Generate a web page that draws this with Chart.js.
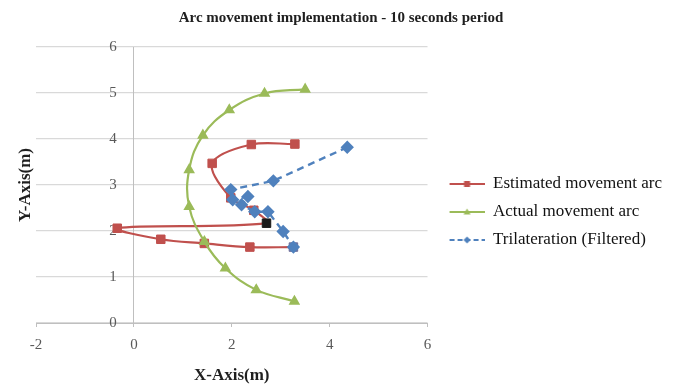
<!DOCTYPE html>
<html>
<head>
<meta charset="utf-8">
<script src="https://cdn.jsdelivr.net/npm/chart.js@4/dist/chart.umd.min.js"></script>
<style>
    html, body { margin: 0; padding: 0; background: #fff; }
    #wrap { width: 678px; height: 387px; }
</style>
</head>
<body>
<div id="wrap"><canvas id="arcChart" width="678" height="387"></canvas></div>
<script>
    // values
    var seriesNames = ['Estimated movement arc', 'Actual movement arc', 'Trilateration (Filtered)'];

    var estX = [3.29, 2.40, 1.60, 1.98, 2.45, 2.71, -0.34, 0.55, 1.44, 2.37, 3.26];
    var estY = [3.89, 3.88, 3.47, 2.72, 2.45, 2.17, 2.06, 1.82, 1.73, 1.65, 1.65];

    var actX = [3.50, 2.67, 1.95, 1.41, 1.13, 1.13, 1.44, 1.87, 2.50, 3.28];
    var actY = [5.08, 4.99, 4.63, 4.08, 3.33, 2.53, 1.77, 1.19, 0.72, 0.47];

    var triX = [4.36, 2.85, 1.98, 2.02, 2.33, 2.20, 2.47, 2.74, 3.05, 3.26];
    var triY = [3.82, 3.09, 2.90, 2.68, 2.75, 2.57, 2.42, 2.42, 1.99, 1.65];

    var xTicks = [-2, 0, 2, 4, 6];
    var yTicks = [0, 1, 2, 3, 4, 5, 6];

    var RED = '#C0504D', GREEN = '#9BBB59', BLUE = '#4F81BD';
    var SERIF = '"Liberation Serif", "Times New Roman", serif';

    function toPoints(xs, ys) {
        var out = [];
        for (var i = 0; i < xs.length; i++) {
            out.push({x: xs[i], y: ys[i]});
        }
        return out;
    }

    function fixedTicks(list) {
        return function(s){ s.ticks = list.map(function(v){ return {value: v}; }); };
    }

    // excel-like legend key: line with a small marker in the middle
    function legendIcon(color, marker, dashed) {
        var c = document.createElement('canvas');
        c.width = 46; c.height = 14;
        var g = c.getContext('2d');
        g.strokeStyle = color;
        g.lineWidth = 2;
        if (dashed) g.setLineDash([5, 3]);
        g.beginPath(); g.moveTo(11, 7); g.lineTo(46, 7); g.stroke();
        g.setLineDash([]);
        g.fillStyle = color;
        g.beginPath();
        if (marker === 'rect') {
            g.rect(25.5, 4, 6, 6);
        } else if (marker === 'triangle') {
            g.moveTo(28.5, 3.5); g.lineTo(32, 9.5); g.lineTo(25, 9.5); g.closePath();
        } else {
            g.moveTo(28.5, 3.5); g.lineTo(32, 7); g.lineTo(28.5, 10.5); g.lineTo(25, 7); g.closePath();
        }
        g.fill();
        return c;
    }

    var legendIcons = [
        legendIcon(RED, 'rect', false),
        legendIcon(GREEN, 'triangle', false),
        legendIcon(BLUE, 'rectRot', true)
    ];

    var estColors = estX.map(function(v, i){
        if (i === 5) return '#1a1a1a';
        if (i === estX.length - 1) return '#6E6F9C';
        return RED;
    });

    var ctx = document.getElementById('arcChart');
    var chart = new Chart(ctx, {
        type: 'scatter',
        data: {
            datasets: [
                {
                    label: seriesNames[0],
                    data: toPoints(estX, estY),
                    showLine: true,
                    borderColor: RED,
                    borderWidth: 2.2,
                    tension: 0.35,
                    pointStyle: 'rect',
                    pointRadius: 6,
                    pointBackgroundColor: estColors,
                    pointBorderColor: estColors,
                    pointBorderWidth: 1,
                    order: 3
                },
                {
                    label: seriesNames[1],
                    data: toPoints(actX, actY),
                    showLine: true,
                    borderColor: GREEN,
                    borderWidth: 2.2,
                    tension: 0.4,
                    pointStyle: 'triangle',
                    pointRadius: 4.5,
                    pointBackgroundColor: GREEN,
                    pointBorderColor: GREEN,
                    order: 2
                },
                {
                    label: seriesNames[2],
                    data: toPoints(triX, triY),
                    showLine: true,
                    borderColor: BLUE,
                    borderWidth: 2.4,
                    borderDash: [7, 5],
                    tension: 0,
                    pointStyle: 'rectRot',
                    pointRadius: 5,
                    pointBackgroundColor: BLUE,
                    pointBorderColor: BLUE,
                    order: 1
                }
            ]
        },
        options: {
            responsive: false,
            animation: false,
            layout: { padding: { left: 10, right: 6, top: 0, bottom: 0 } },
            plugins: {
                tooltip: { enabled: false },
                title: {
                    display: true,
                    text: 'Arc movement implementation - 10 seconds period',
                    color: '#1f1f1f',
                    font: { family: SERIF, size: 15, weight: 'bold' },
                    padding: { top: 9, bottom: 20 }
                },
                legend: {
                    position: 'right',
                    align: 'center',
                    maxWidth: 260,
                    title: { display: true, text: '', font: { size: 10, lineHeight: 1 }, padding: { top: 27, bottom: 0 } },
                    labels: {
                        usePointStyle: true,
                        pointStyleWidth: 46,
                        padding: 11,
                        color: '#111',
                        font: { family: SERIF, size: 17 },
                        sort: function(a, b){ return a.datasetIndex - b.datasetIndex; },
                        generateLabels: function(c) {
                            var items = Chart.defaults.plugins.legend.labels.generateLabels(c);
                            items.forEach(function(it){ it.pointStyle = legendIcons[it.datasetIndex]; });
                            return items;
                        }
                    }
                }
            },
            scales: {
                x: {
                    type: 'linear',
                    position: 'bottom',
                    min: xTicks[0],
                    max: xTicks[xTicks.length - 1],
                    afterBuildTicks: fixedTicks(xTicks),
                    afterFit: function(s){ s.height = 64; },
                    grid: { drawOnChartArea: false, drawTicks: true, tickLength: 4, color: '#BFBFBF' },
                    border: { display: true, color: '#BFBFBF', width: 1 },
                    ticks: { color: '#595959', padding: 9, font: { family: SERIF, size: 15 } },
                    title: {
                        display: true,
                        text: 'X-Axis(m)',
                        color: '#1f1f1f',
                        font: { family: SERIF, size: 17, weight: 'bold' },
                        padding: { top: 0, bottom: 1 }
                    }
                },
                y: {
                    type: 'linear',
                    position: 'left',
                    min: yTicks[0],
                    max: yTicks[yTicks.length - 1],
                    afterBuildTicks: fixedTicks(yTicks),
                    afterFit: function(s){ s.width = 26; },
                    grid: { color: '#D9D9D9', lineWidth: 1.3, drawTicks: false },
                    border: { display: false },
                    ticks: { display: false },
                    title: {
                        display: true,
                        text: 'Y-Axis(m)',
                        color: '#1f1f1f',
                        font: { family: SERIF, size: 17, weight: 'bold' },
                        padding: { top: 5, bottom: 0 }
                    }
                },
                // vertical axis line crossing at x = 0
                yAxisLine: {
                    type: 'linear',
                    position: { x: 0 },
                    min: yTicks[0],
                    max: yTicks[yTicks.length - 1],
                    afterBuildTicks: fixedTicks(yTicks),
                    grid: { display: false, drawTicks: false },
                    border: { display: true, color: '#BFBFBF', width: 1 },
                    ticks: { display: false }
                },
                // its tick labels, just left of that line
                yLabels: {
                    type: 'linear',
                    position: { x: -0.35 },
                    min: yTicks[0],
                    max: yTicks[yTicks.length - 1],
                    afterBuildTicks: fixedTicks(yTicks),
                    grid: { display: false, drawTicks: false },
                    border: { display: false },
                    ticks: { color: '#595959', padding: 0, font: { family: SERIF, size: 15 } }
                }
            }
        }
    });
</script>
</body>
</html>
